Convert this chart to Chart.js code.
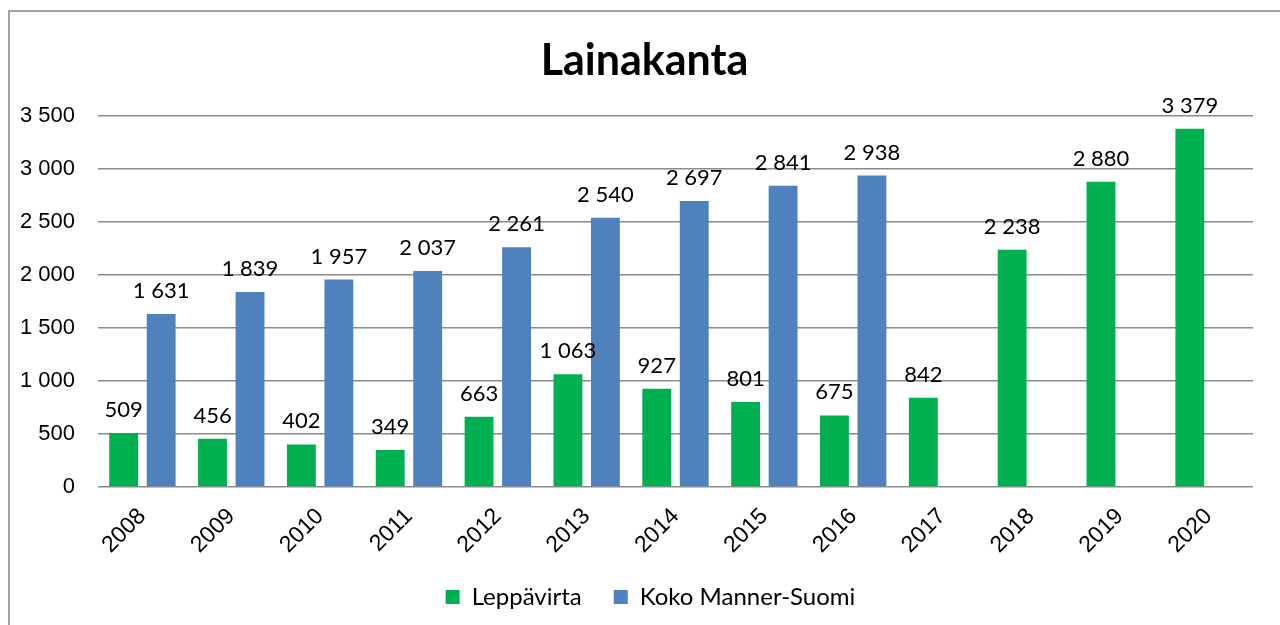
<!DOCTYPE html>
<html>
<head>
<meta charset="utf-8">
<script src="https://cdn.jsdelivr.net/npm/chart.js@4"></script>
<style>
  html, body { margin: 0; padding: 0; background: #fff; overflow: hidden; }
  #wrap { position: relative; width: 1280px; height: 625px; }
  #frame { position: absolute; left: 8px; top: 10px; width: 1300px; height: 700px;
           border-left: 2px solid #a3a3a3; border-top: 2px solid #a3a3a3; pointer-events: none; }
</style>
</head>
<body>
<div id="wrap">
  <canvas id="myChart" width="1280" height="625"></canvas>
  <div id="frame"></div>
</div>
<script>
'use strict';

const years = ['2008', '2009', '2010', '2011', '2012', '2013', '2014', '2015', '2016', '2017', '2018', '2019', '2020'];
const leppavirta = [509, 456, 402, 349, 663, 1063, 927, 801, 675, 842, 2238, 2880, 3379];
const mannerSuomi = [1631, 1839, 1957, 2037, 2261, 2540, 2697, 2841, 2938, null, null, null, null];
const yTicks = [0, 500, 1000, 1500, 2000, 2500, 3000, 3500];

const chartCanvas = document.getElementById('myChart');

function spaced(n) {
  return String(n).replace(/\B(?=(\d{3})+(?!\d))/g, ' ');
}

// value labels above each bar
const barLabels = {
  id: 'barLabels',
  afterDatasetsDraw(chart) {
    const ctx = chart.ctx;
    ctx.save();
    ctx.font = '22px Lato';
    ctx.fillStyle = '#000';
    ctx.textAlign = 'center';
    ctx.textBaseline = 'alphabetic';
    chart.data.datasets.forEach((ds, i) => {
      const meta = chart.getDatasetMeta(i);
      meta.data.forEach((bar, j) => {
        const v = ds.data[j];
        if (v === null || v === undefined) return;
        ctx.fillText(spaced(v), bar.x, bar.y - 16);
      });
    });
    ctx.restore();
  },
};

// title and legend sit a bit right of the canvas centre in the original
const nudgeBoxes = {
  id: 'nudgeBoxes',
  afterLayout(chart) {
    if (chart.titleBlock) {
      chart.titleBlock.left += 18;
      chart.titleBlock.right += 18;
    }
    if (chart.legend) {
      chart.legend.left += 24;
      chart.legend.right += 24;
    }
  },
};

function createLoanChart() {
  return new Chart(chartCanvas, {
    type: 'bar',
    data: {
      labels: years,
      datasets: [
        {
          label: 'Leppävirta',
          data: leppavirta,
          backgroundColor: '#00B050',
          borderWidth: 0,
        },
        {
          label: 'Koko Manner-Suomi',
          data: mannerSuomi,
          backgroundColor: '#4F81BD',
          borderWidth: 0,
        },
      ],
    },
    options: {
      responsive: false,
      animation: false,
      layout: {
        padding: { left: 0, right: 27, top: 0, bottom: 6 },
      },
      datasets: {
        bar: {
          categoryPercentage: 0.844,
          barPercentage: 0.77,
        },
      },
      plugins: {
        title: {
          display: true,
          text: 'Lainakanta',
          color: '#000',
          font: { family: 'Lato', size: 43, weight: 'bold' },
          padding: { top: 35, bottom: 29.4 },
        },
        legend: {
          position: 'bottom',
          labels: {
            boxWidth: 14,
            boxHeight: 14,
            padding: 32,
            color: '#000',
            font: { family: 'Lato', size: 24 },
          },
        },
        tooltip: { enabled: false },
      },
      scales: {
        y: {
          min: 0,
          max: 3500,
          afterBuildTicks(scale) {
            scale.ticks = yTicks.map((v) => ({ value: v }));
          },
          afterFit(scale) {
            scale.width = 98;
          },
          grid: {
            color: '#8c8c8c',
            lineWidth: 1.5,
            drawTicks: false,
          },
          border: { display: false },
          ticks: {
            padding: 23,
            color: '#000',
            font: { family: "'Liberation Sans Narrow', 'Arial Narrow', 'Liberation Sans'", size: 22 },
            callback: (v) => spaced(v),
          },
        },
        x: {
          afterFit(scale) {
            scale.height = 66;
          },
          grid: { display: false },
          border: { display: false },
          ticks: {
            maxRotation: 45,
            minRotation: 45,
            padding: 8,
            color: '#000',
            font: { family: "'Liberation Sans Narrow', 'Arial Narrow', 'Liberation Sans'", size: 23 },
          },
        },
      },
    },
    plugins: [barLabels, nudgeBoxes],
  });
}

createLoanChart();
</script>
</body>
</html>
